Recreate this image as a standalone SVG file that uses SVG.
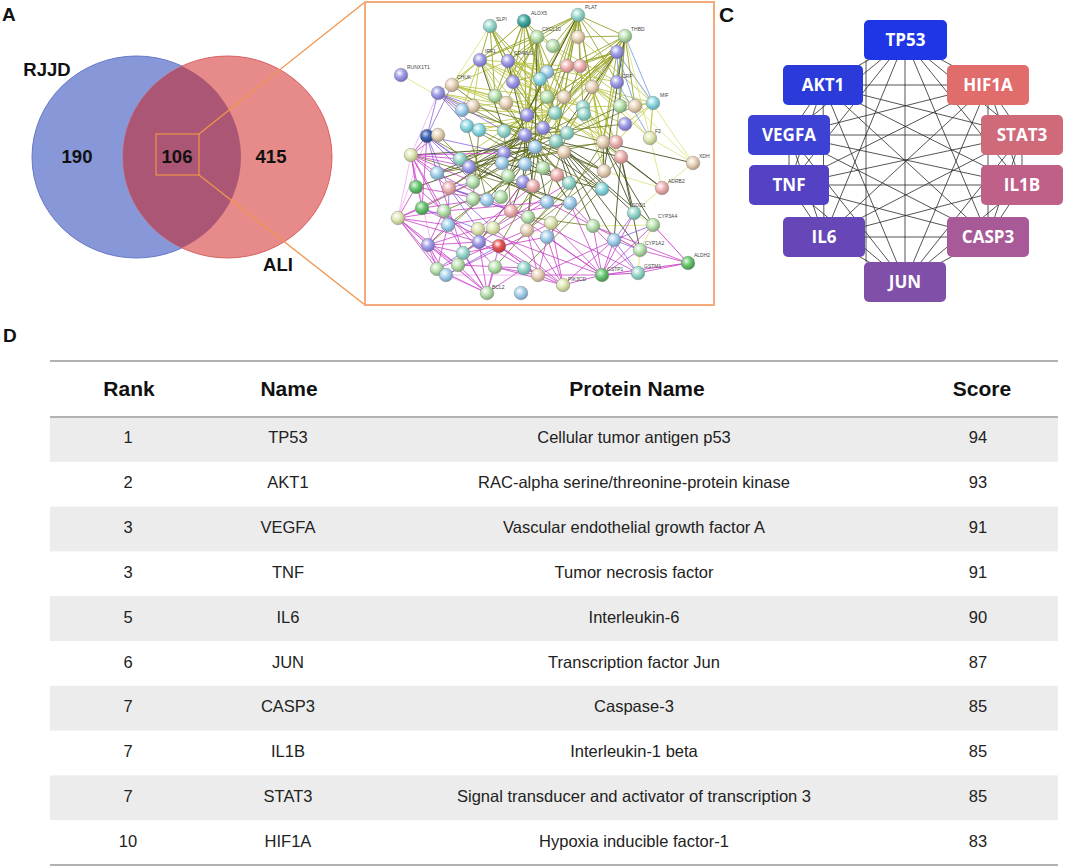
<svg xmlns="http://www.w3.org/2000/svg" width="1065" height="867" viewBox="0 0 1065 867">
<style>
.lbl{font-family:"Liberation Sans",Arial,sans-serif;font-weight:bold;fill:#111}
.venn{font-family:"Liberation Sans",Arial,sans-serif;font-weight:bold;font-size:18.5px;fill:#111;text-anchor:middle}
.cn text{font-family:"Open Sans","Noto Sans",sans-serif;font-weight:bold;font-size:17px;fill:#fff;text-anchor:middle}
.hd{font-family:"Liberation Sans",Arial,sans-serif;font-weight:bold;font-size:21px;fill:#111;text-anchor:middle}
.td{font-family:"Liberation Sans",Arial,sans-serif;font-size:16.5px;fill:#222;text-anchor:middle}
.sl{font-family:"Liberation Sans",Arial,sans-serif;font-size:5px;fill:#444}
.e{fill:none}
.sn circle{stroke:#7a7a7a;stroke-width:0.4}
.g{fill:url(#sg)}.t{fill:url(#st)}.b{fill:url(#sb)}.p{fill:url(#sp)}.n{fill:url(#sn)}.k{fill:url(#sk)}.y{fill:url(#sy)}.c{fill:url(#sc)}.d{fill:url(#sd)}.r{fill:url(#sr)}.G{fill:url(#sG)}.T{fill:url(#sT)}
.tl{stroke:#b3b3b3;stroke-width:2}
.band{fill:#ececec}
</style>
<defs>
<radialGradient id="sg" cx="0.38" cy="0.35" r="0.7"><stop offset="0" stop-color="#fff"/><stop offset="0.45" stop-color="#bde5b4"/><stop offset="1" stop-color="#7aa070"/></radialGradient>
<radialGradient id="st" cx="0.38" cy="0.35" r="0.7"><stop offset="0" stop-color="#fff"/><stop offset="0.45" stop-color="#9edbd0"/><stop offset="1" stop-color="#5fa398"/></radialGradient>
<radialGradient id="sb" cx="0.38" cy="0.35" r="0.7"><stop offset="0" stop-color="#fff"/><stop offset="0.45" stop-color="#a9d3ee"/><stop offset="1" stop-color="#6a95b5"/></radialGradient>
<radialGradient id="sp" cx="0.38" cy="0.35" r="0.7"><stop offset="0" stop-color="#fff"/><stop offset="0.45" stop-color="#a3a0ea"/><stop offset="1" stop-color="#6a66b8"/></radialGradient>
<radialGradient id="sn" cx="0.38" cy="0.35" r="0.7"><stop offset="0" stop-color="#fff"/><stop offset="0.45" stop-color="#ead6bd"/><stop offset="1" stop-color="#ab9578"/></radialGradient>
<radialGradient id="sk" cx="0.38" cy="0.35" r="0.7"><stop offset="0" stop-color="#fff"/><stop offset="0.45" stop-color="#f0b6b6"/><stop offset="1" stop-color="#b57a7a"/></radialGradient>
<radialGradient id="sy" cx="0.38" cy="0.35" r="0.7"><stop offset="0" stop-color="#fff"/><stop offset="0.45" stop-color="#e2e8b6"/><stop offset="1" stop-color="#a6ad78"/></radialGradient>
<radialGradient id="sc" cx="0.38" cy="0.35" r="0.7"><stop offset="0" stop-color="#fff"/><stop offset="0.45" stop-color="#8fdbe4"/><stop offset="1" stop-color="#56a1ab"/></radialGradient>
<radialGradient id="sd" cx="0.38" cy="0.35" r="0.7"><stop offset="0" stop-color="#c8d4f0"/><stop offset="0.45" stop-color="#3e62b0"/><stop offset="1" stop-color="#22407a"/></radialGradient>
<radialGradient id="sr" cx="0.38" cy="0.35" r="0.7"><stop offset="0" stop-color="#fff"/><stop offset="0.45" stop-color="#ea5555"/><stop offset="1" stop-color="#a83030"/></radialGradient>
<radialGradient id="sG" cx="0.38" cy="0.35" r="0.7"><stop offset="0" stop-color="#e8f8e8"/><stop offset="0.45" stop-color="#6cc873"/><stop offset="1" stop-color="#3d8a45"/></radialGradient>
<radialGradient id="sT" cx="0.38" cy="0.35" r="0.7"><stop offset="0" stop-color="#d8f0ee"/><stop offset="0.45" stop-color="#44aca4"/><stop offset="1" stop-color="#23706a"/></radialGradient>
<clipPath id="blueClip"><ellipse cx="136.5" cy="157" rx="104.5" ry="101"/></clipPath>
</defs>
<rect width="1065" height="867" fill="#fff"/>

<!-- Panel labels -->
<text class="lbl" x="2" y="21" font-size="19">A</text>
<text class="lbl" x="367" y="22" font-size="21">B</text>
<text class="lbl" x="719" y="22" font-size="21">C</text>
<text class="lbl" x="3" y="342" font-size="19">D</text>

<!-- Panel A: Venn -->
<g id="venn-RJJD">
<ellipse cx="136.5" cy="157" rx="104.5" ry="101" fill="#8797d8" stroke="#6578c8" stroke-width="1"/>
</g>
<g id="venn-ALI">
<ellipse cx="227.5" cy="157" rx="104.5" ry="101" fill="#e68a8a" stroke="#d96060" stroke-width="1"/>
<ellipse cx="227.5" cy="157" rx="104.5" ry="101" fill="#ab5674" clip-path="url(#blueClip)"/>
</g>
<text class="venn" x="47" y="76">RJJD</text>
<text class="venn" x="77" y="163">190</text>
<text class="venn" x="177" y="163">106</text>
<text class="venn" x="271" y="163">415</text>
<text class="venn" x="278" y="271">ALI</text>

<!-- zoom callout -->
<g id="callout" fill="none" stroke="#f0954e" stroke-width="1.3">
<rect x="156" y="134" width="43" height="41" stroke="#e8904c"/>
<line x1="199" y1="134" x2="365" y2="2"/>
<line x1="199" y1="175" x2="365" y2="305"/>
</g>

<!-- Panel B: STRING network -->
<g id="string-network">
<rect x="365" y="2" width="349" height="303" fill="#fff" stroke="#f5aa7c" stroke-width="2"/>
<g id="string-edges" class="e">
<path stroke="#d6de62" stroke-width="0.7" d="M401 75L462 110M650 138L653 103M650 138L620 106M650 138L693 163M650 138L662 188M693 163L635 106M693 163L662 188M653 225L634 213M653 225L640 250M653 225L593 226M662 188L604 171M662 188L634 213M640 250L638 273M640 250L593 226M490 26L452 85M524 21L480 60M625 36L650 138M617 52L693 163"/>
<path stroke="#e88ee8" stroke-width="0.6" d="M398 218L411 155M398 218L428 245M437 269L487 293M446 275L487 293M638 273L602 275M411 155L438 93M398 218L427 136M446 275L538 275M398 218L487 293M411 155L437 269M653 225L688 263M602 275L688 263"/>
<path stroke="#9aa52c" stroke-width="0.9" d="M578 15L537 37M578 15L553 46M578 15L578 37M578 15L567 66M578 15L580 66M578 15L547 72M578 15L540 79M578 15L592 87M578 15L547 97M578 15L564 97M578 15L555 113M578 15L583 107M578 15L617 52M578 15L625 36M578 15L508 61M578 15L480 60M578 15L617 82M578 15L526 115M578 15L543 128M578 15L603 142M578 15L556 141M625 36L578 37M625 36L567 66M625 36L580 66M625 36L592 87M625 36L617 82M625 36L620 106M625 36L635 106M625 36L564 97M625 36L555 113M625 36L603 142M625 36L616 142M625 36L584 114M625 36L543 128M617 52L547 72M617 52L540 79M617 52L513 82M617 52L564 97M617 52L555 113M617 52L526 115M617 52L504 131M617 52L525 135M617 52L567 133M617 52L603 142M617 52L535 147M537 37L508 61M537 37L480 60M537 37L513 82M537 37L495 96M537 37L506 103M537 37L547 97M537 37L564 97M537 37L526 115M537 37L555 113M537 37L525 135M537 37L543 128M524 21L537 37M524 21L553 46M524 21L508 61M524 21L480 60M524 21L513 82M524 21L540 79M524 21L547 97M524 21L526 115M524 21L555 113M524 21L495 96M490 26L508 61M490 26L480 60M490 26L513 82M490 26L540 79M490 26L495 96M490 26L526 115M490 26L555 113M490 26L543 128"/>
<path stroke="#b8c23a" stroke-width="0.8" d="M480 60L452 85M480 60L438 93M480 60L473 106M480 60L462 110M480 60L495 96M480 60L506 103M480 60L526 115M480 60L555 113M480 60L547 97M480 60L564 97M480 60L567 66M508 61L547 72M508 61L540 79M508 61L564 97M508 61L592 87M508 61L555 113M508 61L583 107M508 61L526 115M508 61L543 128M508 61L567 133M508 61L617 82M592 87L620 106M592 87L635 106M592 87L653 103M592 87L616 142M592 87L603 142M592 87L650 138M592 87L621 157M592 87L604 171M592 87L567 133M592 87L555 113M653 103L620 106M653 103L635 106M653 103L616 142M653 103L650 138M653 103L625 124M583 107L620 106M583 107L625 124M583 107L603 142M583 107L616 142M583 107L621 157M583 107L604 171M583 107L547 97M555 113L525 135M555 113L543 128M555 113L535 147M555 113L556 141M555 113L564 152M555 113L603 142M555 113L616 142M555 113L621 157M555 113L504 131M555 113L467 126M555 113L479 130M526 115L504 131M526 115L535 147M526 115L556 141M526 115L504 153M526 115L564 152M526 115L502 163M526 115L525 164M526 115L460 159M526 115L469 167M452 85L495 96M452 85L506 103M452 85L526 115M452 85L555 113M452 85L547 97M452 85L480 60M452 85L508 61M438 93L555 113M438 93L526 115M462 110L555 113M473 106L564 97M467 126L543 128M479 130L567 133M567 66L620 106M580 66L635 106M547 72L616 142M540 79L603 142M513 82L583 107M553 46L592 87M537 37L617 82M578 37L653 103"/>
<path stroke="#4a5426" stroke-width="0.9" d="M525 135L460 159M525 135L469 167M525 135L437 173M525 135L449 188M525 135L473 182M525 135L508 176M525 135L523 182M525 135L533 186M525 135L569 183M525 135L602 189M525 135L604 171M535 147L437 173M535 147L473 182M535 147L487 200M535 147L501 197M535 147L508 176M535 147L547 202M535 147L570 203M535 147L528 217M535 147L511 211M535 147L416 187M535 147L411 155M556 141L604 171M556 141L621 157M556 141L602 189M556 141L634 213M556 141L653 225M556 141L640 250M556 141L614 240M556 141L593 226M556 141L569 183M603 142L693 163M603 142L662 188M603 142L634 213M603 142L653 225M603 142L604 171M621 157L662 188M621 157L634 213M621 157L640 250M621 157L614 240M578 15L526 115M617 52L556 141M537 37L535 147M508 61L525 135M480 60L504 131M625 36L604 171M504 153L569 183M502 163L602 189M460 159L547 202M469 167L570 203"/>
<path stroke="#6b7a1e" stroke-width="0.8" d="M467 126L569 183M479 130L602 189M504 131L604 171M462 110L556 141M473 106L603 142M452 85L535 147M438 93L525 135M495 96L569 183M506 103L570 203M513 82L556 141M540 79L525 164M547 72L502 163M567 66L535 147M580 66L543 168M564 97L508 176M547 97L473 182M543 128L449 188M567 133L460 159M584 114L469 167M620 106L535 147M635 106L556 141M625 124L525 135M616 142L504 153M603 142L502 163M564 152L437 173M556 141L422 208M543 168L444 211M525 164L448 225M508 176L428 245M523 182L479 242M533 186L499 246M557 175L463 253M569 183L495 267M602 189L524 268M604 171L527 230M621 157L547 237M593 226L528 217M570 203L411 155M547 202L427 136M501 197L438 135M487 200L467 126M473 199L479 130M511 211L504 131M528 217L543 128M546 201L567 133M551 223L603 142M527 230L616 142"/>
<path stroke="#c840c8" stroke-width="0.8" d="M411 155L437 173M411 155L449 188M411 155L460 159M411 155L469 167M411 155L427 136M411 155L438 135M411 155L416 187M411 155L422 208M411 155L444 211M411 155L473 182M411 155L504 153M398 218L416 187M398 218L422 208M398 218L444 211M398 218L448 225M398 218L428 245M398 218L437 269M398 218L446 275M398 218L473 182M398 218L479 242M428 245L437 269M428 245L446 275M428 245L463 253M428 245L479 242M428 245L487 293M428 245L444 211M428 245L448 225M428 245L478 229M487 293L463 253M487 293L479 242M487 293L495 267M487 293L524 268M487 293L499 246M487 293L448 225M487 293L437 269M538 275L563 285M538 275L524 268M538 275L495 267M538 275L499 246M538 275L527 230M538 275L551 223M538 275L602 275M538 275L614 240M602 275L640 250M602 275L638 273M602 275L653 225M602 275L634 213M602 275L614 240M602 275L593 226M602 275L551 223M602 275L547 237M602 275L570 203M688 263L638 273M688 263L640 250M688 263L653 225M688 263L602 275M563 285L602 275M563 285L614 240M563 285L547 237M563 285L527 230M563 285L551 223M563 285L499 246M437 173L511 211M449 188L528 217M416 187L487 200M422 208L501 197M444 211L547 202M448 225L570 203M478 229L533 186M493 228L569 183M463 253L546 201M479 242L523 182M422 208L499 246M444 211L495 267M437 173L463 253M416 187L479 242M411 155L448 225M427 136L422 208M437 269L527 230M446 275L551 223M463 253L547 237M458 265L524 268M458 265L487 293M458 265L428 245M495 267L563 285M499 246L538 275M479 242L538 275M478 229L602 275M493 228L563 285M511 211L602 275M528 217L638 273M547 202L640 250M570 203L638 273M593 226L688 263M398 218L458 265M437 269L448 225"/>
<path stroke="#7a4fd8" stroke-width="0.7" d="M427 136L460 159M427 136L469 167M427 136L437 173M427 136L449 188M427 136L473 182M427 136L504 153M427 136L438 93M427 136L452 85M438 93L462 110M438 93L473 106M438 93L467 126M438 93L479 130M438 93L504 131M449 188L473 182M449 188L487 200M449 188L511 211M449 188L448 225M449 188L478 229M449 188L493 228M614 240L640 250M614 240L653 225M614 240L634 213M614 240L638 273M422 208L478 229M437 269L479 242M446 275L499 246"/>
<path stroke="#5a88e0" stroke-width="0.7" d="M617 52L653 103M617 52L635 106M625 36L653 103M617 82L650 138M617 52L620 106"/>
</g>
<g id="string-nodes" class="sn">
<circle class="T" cx="524" cy="21" r="6.8"/><circle class="t" cx="490" cy="26" r="6.8"/><circle class="t" cx="578" cy="15" r="6.8"/><circle class="g" cx="625" cy="36" r="6.8"/><circle class="g" cx="537" cy="37" r="6.8"/><circle class="g" cx="553" cy="46" r="6.8"/><circle class="n" cx="578" cy="37" r="6.8"/><circle class="p" cx="617" cy="52" r="6.8"/><circle class="p" cx="480" cy="60" r="6.8"/><circle class="p" cx="508" cy="61" r="6.8"/>
<circle class="k" cx="567" cy="66" r="6.8"/><circle class="k" cx="580" cy="66" r="6.8"/><circle class="b" cx="547" cy="72" r="6.8"/><circle class="c" cx="540" cy="79" r="6.8"/><circle class="p" cx="513" cy="82" r="6.8"/><circle class="p" cx="401" cy="75" r="6.8"/><circle class="n" cx="452" cy="85" r="6.8"/><circle class="p" cx="438" cy="93" r="6.8"/><circle class="p" cx="617" cy="82" r="6.8"/><circle class="n" cx="592" cy="87" r="6.8"/>
<circle class="g" cx="547" cy="97" r="6.8"/><circle class="n" cx="564" cy="97" r="6.8"/><circle class="g" cx="495" cy="96" r="6.8"/><circle class="n" cx="506" cy="103" r="6.8"/><circle class="n" cx="473" cy="106" r="6.8"/><circle class="b" cx="462" cy="110" r="6.8"/><circle class="p" cx="527" cy="115" r="6.8"/><circle class="t" cx="555" cy="113" r="6.8"/><circle class="t" cx="583" cy="107" r="6.8"/><circle class="t" cx="584" cy="114" r="6.8"/>
<circle class="g" cx="620" cy="106" r="6.8"/><circle class="n" cx="635" cy="106" r="6.8"/><circle class="c" cx="653" cy="103" r="6.8"/><circle class="c" cx="467" cy="126" r="6.8"/><circle class="c" cx="479" cy="130" r="6.8"/><circle class="t" cx="504" cy="131" r="6.8"/><circle class="p" cx="543" cy="128" r="6.8"/><circle class="p" cx="525" cy="135" r="6.8"/><circle class="t" cx="567" cy="133" r="6.8"/><circle class="p" cx="625" cy="124" r="6.8"/>
<circle class="d" cx="427" cy="136" r="6.8"/><circle class="n" cx="438" cy="135" r="6.8"/><circle class="y" cx="650" cy="138" r="6.8"/><circle class="n" cx="603" cy="142" r="6.8"/><circle class="k" cx="616" cy="142" r="6.8"/><circle class="b" cx="535" cy="147" r="6.8"/><circle class="t" cx="556" cy="141" r="6.8"/><circle class="p" cx="504" cy="153" r="6.8"/><circle class="n" cx="564" cy="152" r="6.8"/><circle class="y" cx="411" cy="155" r="6.8"/>
<circle class="k" cx="621" cy="157" r="6.8"/><circle class="t" cx="460" cy="159" r="6.8"/><circle class="p" cx="469" cy="167" r="6.8"/><circle class="b" cx="502" cy="163" r="6.8"/><circle class="b" cx="525" cy="164" r="6.8"/><circle class="g" cx="543" cy="168" r="6.8"/><circle class="k" cx="557" cy="175" r="6.8"/><circle class="n" cx="604" cy="171" r="6.8"/><circle class="n" cx="693" cy="163" r="6.8"/><circle class="b" cx="437" cy="173" r="6.8"/>
<circle class="k" cx="449" cy="188" r="6.8"/><circle class="g" cx="473" cy="182" r="6.8"/><circle class="g" cx="508" cy="176" r="6.8"/><circle class="p" cx="523" cy="182" r="6.8"/><circle class="k" cx="533" cy="186" r="6.8"/><circle class="t" cx="569" cy="183" r="6.8"/><circle class="k" cx="662" cy="188" r="6.8"/><circle class="G" cx="416" cy="187" r="6.8"/><circle class="c" cx="602" cy="189" r="6.8"/><circle class="G" cx="422" cy="208" r="6.8"/>
<circle class="g" cx="444" cy="211" r="6.8"/><circle class="g" cx="473" cy="199" r="6.8"/><circle class="b" cx="487" cy="200" r="6.8"/><circle class="g" cx="501" cy="197" r="6.8"/><circle class="k" cx="511" cy="211" r="6.8"/><circle class="g" cx="528" cy="217" r="6.8"/><circle class="b" cx="547" cy="202" r="6.8"/><circle class="b" cx="570" cy="203" r="6.8"/><circle class="t" cx="634" cy="213" r="6.8"/><circle class="y" cx="398" cy="218" r="6.8"/>
<circle class="b" cx="448" cy="225" r="6.8"/><circle class="y" cx="478" cy="229" r="6.8"/><circle class="y" cx="493" cy="228" r="6.8"/><circle class="y" cx="551" cy="223" r="6.8"/><circle class="n" cx="527" cy="230" r="6.8"/><circle class="g" cx="593" cy="226" r="6.8"/><circle class="g" cx="653" cy="225" r="6.8"/><circle class="p" cx="428" cy="245" r="6.8"/><circle class="p" cx="479" cy="242" r="6.8"/><circle class="r" cx="499" cy="246" r="6.8"/>
<circle class="b" cx="547" cy="237" r="6.8"/><circle class="b" cx="614" cy="240" r="6.8"/><circle class="g" cx="640" cy="250" r="6.8"/><circle class="t" cx="463" cy="253" r="6.8"/><circle class="G" cx="688" cy="263" r="6.8"/><circle class="g" cx="437" cy="269" r="6.8"/><circle class="b" cx="446" cy="275" r="6.8"/><circle class="g" cx="495" cy="267" r="6.8"/><circle class="t" cx="524" cy="268" r="6.8"/><circle class="n" cx="538" cy="275" r="6.8"/>
<circle class="G" cx="602" cy="275" r="6.8"/><circle class="t" cx="638" cy="273" r="6.8"/><circle class="y" cx="563" cy="285" r="6.8"/><circle class="g" cx="487" cy="293" r="6.8"/><circle class="b" cx="521" cy="293" r="6.8"/><circle class="g" cx="458" cy="265" r="6.8"/>
</g>
<g id="string-labels" class="sl">
<text x="407" y="69">RUNX1T1</text><text x="496" y="21">SLPI</text><text x="531" y="15">ALOX5</text><text x="585" y="9">PLAT</text><text x="542" y="31">CXCL10</text><text x="631" y="31">THBD</text><text x="485" y="53">IRF1</text><text x="514" y="55">CD40LG</text><text x="457" y="79">CHUK</text><text x="622" y="78">CRP</text><text x="660" y="97">MIF</text><text x="655" y="133">F2</text><text x="699" y="158">XDH</text><text x="668" y="183">ADRB2</text><text x="632" y="207">SOD1</text><text x="658" y="218">CYP3A4</text><text x="645" y="245">CYP1A2</text><text x="694" y="257">ALDH2</text><text x="644" y="268">GSTM1</text><text x="607" y="271">GSTP1</text><text x="568" y="281">PIK3CD</text><text x="492" y="289">BCL2</text>
</g>
</g>

<!-- Panel C: hub network -->
<g id="hub-edges" stroke="#2a2a2a" stroke-width="0.8" fill="none">
<path d="M905 40L823 85M905 40L988 85M905 40L789 135M905 40L1022 135M905 40L789 185M905 40L1022 185M905 40L824 237M905 40L988 237M905 40L905 282M823 85L988 85M823 85L789 135M823 85L1022 135M823 85L789 185M823 85L1022 185M823 85L824 237M823 85L988 237M823 85L905 282M988 85L789 135M988 85L1022 135M988 85L789 185M988 85L1022 185M988 85L824 237M988 85L988 237M988 85L905 282M789 135L1022 135M789 135L789 185M789 135L1022 185M789 135L824 237M789 135L988 237M789 135L905 282M1022 135L789 185M1022 135L1022 185M1022 135L824 237M1022 135L988 237M1022 135L905 282M789 185L1022 185M789 185L824 237M789 185L988 237M789 185L905 282M1022 185L824 237M1022 185L988 237M1022 185L905 282M824 237L988 237M824 237L905 282M988 237L905 282M866 60L866 262"/>
</g>
<g id="node-TP53" class="cn"><rect x="864" y="20" width="83" height="40" rx="5" fill="#1f36e6"/><text x="905.5" y="46">TP53</text></g>
<g id="node-AKT1" class="cn"><rect x="783" y="65" width="80" height="40" rx="5" fill="#2a3bd9"/><text x="823" y="91">AKT1</text></g>
<g id="node-HIF1A" class="cn"><rect x="947" y="65" width="82" height="40" rx="5" fill="#e06c6c"/><text x="988" y="91">HIF1A</text></g>
<g id="node-VEGFA" class="cn"><rect x="748" y="115" width="82" height="40" rx="5" fill="#3e42d4"/><text x="789" y="141">VEGFA</text></g>
<g id="node-STAT3" class="cn"><rect x="981" y="115" width="82" height="40" rx="5" fill="#cf6a7a"/><text x="1022" y="141">STAT3</text></g>
<g id="node-TNF" class="cn"><rect x="749" y="165" width="80" height="40" rx="5" fill="#5343c4"/><text x="789" y="191">TNF</text></g>
<g id="node-IL1B" class="cn"><rect x="981" y="165" width="82" height="40" rx="5" fill="#bf6088"/><text x="1022" y="191">IL1B</text></g>
<g id="node-IL6" class="cn"><rect x="783" y="217" width="82" height="40" rx="5" fill="#6747b7"/><text x="824" y="243">IL6</text></g>
<g id="node-CASP3" class="cn"><rect x="947" y="217" width="82" height="40" rx="5" fill="#a85a98"/><text x="988" y="243">CASP3</text></g>
<g id="node-JUN" class="cn"><rect x="864" y="262" width="82" height="40" rx="5" fill="#8050a8"/><text x="905" y="288">JUN</text></g>

<!-- Panel D: table -->
<g id="table">
<rect class="band" x="50" y="417" width="1008" height="44.8"/>
<rect class="band" x="50" y="506.6" width="1008" height="44.8"/>
<rect class="band" x="50" y="596.2" width="1008" height="44.8"/>
<rect class="band" x="50" y="685.8" width="1008" height="44.8"/>
<rect class="band" x="50" y="775.4" width="1008" height="44.8"/>
<line class="tl" x1="50" y1="361" x2="1058" y2="361"/>
<line class="tl" x1="50" y1="417" x2="1058" y2="417"/>
<line class="tl" x1="50" y1="865" x2="1058" y2="865"/>
<text class="hd" x="129" y="396">Rank</text>
<text class="hd" x="289" y="396">Name</text>
<text class="hd" x="637" y="396">Protein Name</text>
<text class="hd" x="982" y="396">Score</text>
<g class="td">
<text x="128" y="443">1</text><text x="288" y="443">TP53</text><text x="634" y="443">Cellular tumor antigen p53</text><text x="978" y="443">94</text>
<text x="128" y="488">2</text><text x="288" y="488">AKT1</text><text x="634" y="488">RAC-alpha serine/threonine-protein kinase</text><text x="978" y="488">93</text>
<text x="128" y="533">3</text><text x="288" y="533">VEGFA</text><text x="634" y="533">Vascular endothelial growth factor A</text><text x="978" y="533">91</text>
<text x="128" y="578">3</text><text x="288" y="578">TNF</text><text x="634" y="578">Tumor necrosis factor</text><text x="978" y="578">91</text>
<text x="128" y="623">5</text><text x="288" y="623">IL6</text><text x="634" y="623">Interleukin-6</text><text x="978" y="623">90</text>
<text x="128" y="667.5">6</text><text x="288" y="667.5">JUN</text><text x="634" y="667.5">Transcription factor Jun</text><text x="978" y="667.5">87</text>
<text x="128" y="712">7</text><text x="288" y="712">CASP3</text><text x="634" y="712">Caspase-3</text><text x="978" y="712">85</text>
<text x="128" y="757">7</text><text x="288" y="757">IL1B</text><text x="634" y="757">Interleukin-1 beta</text><text x="978" y="757">85</text>
<text x="128" y="802">7</text><text x="288" y="802">STAT3</text><text x="634" y="802">Signal transducer and activator of transcription 3</text><text x="978" y="802">85</text>
<text x="128" y="847">10</text><text x="288" y="847">HIF1A</text><text x="634" y="847">Hypoxia inducible factor-1</text><text x="978" y="847">83</text>
</g>
</g>
</svg>
